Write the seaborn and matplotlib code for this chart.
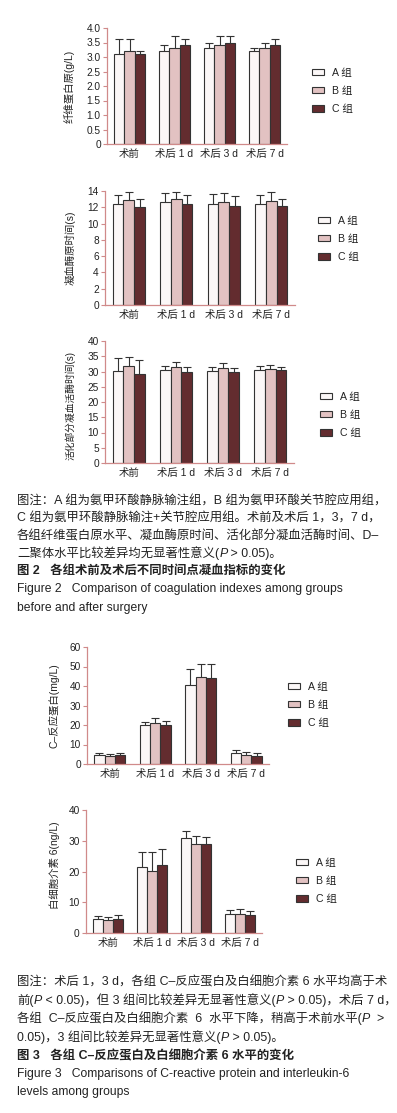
import numpy as np
import pandas as pd
import matplotlib
matplotlib.use('Agg')
import matplotlib.pyplot as plt
from matplotlib.text import Annotation
import seaborn as sns

# categories / groups
times = ['术前', '术后 1 d', '术后 3 d', '术后 7 d']
groups = ['A 组', 'B 组', 'C 组']

# fibrinogen (g/L), mean and upper sd
fib_a = [3.12, 3.21, 3.31, 3.21]
fib_b = [3.21, 3.31, 3.42, 3.31]
fib_c = [3.12, 3.42, 3.50, 3.42]
fib_a_sd = [0.51, 0.21, 0.18, 0.10]
fib_b_sd = [0.42, 0.40, 0.29, 0.18]
fib_c_sd = [0.09, 0.21, 0.21, 0.21]

# prothrombin time (s)
pt_a = [12.37, 12.65, 12.45, 12.40]
pt_b = [12.90, 13.00, 12.65, 12.78]
pt_c = [12.04, 12.45, 12.20, 12.10]
pt_a_sd = [1.18, 1.15, 1.15, 1.15]
pt_b_sd = [1.00, 0.90, 1.15, 1.12]
pt_c_sd = [0.96, 1.05, 1.20, 0.90]

# APTT (s)
aptt_a = [30.3, 30.6, 30.3, 30.6]
aptt_b = [31.8, 31.4, 31.1, 30.9]
aptt_c = [29.3, 29.8, 29.8, 30.4]
aptt_a_sd = [4.1, 1.3, 1.3, 1.3]
aptt_b_sd = [2.95, 1.7, 1.7, 1.3]
aptt_c_sd = [4.6, 1.7, 1.3, 1.1]

# CRP (mg/L)
crp_a = [4.6, 19.9, 40.7, 5.8]
crp_b = [4.3, 20.8, 44.8, 4.8]
crp_c = [4.6, 20.1, 44.0, 4.1]
crp_a_sd = [0.85, 1.7, 8.0, 1.5]
crp_b_sd = [0.85, 2.9, 6.6, 1.5]
crp_c_sd = [0.85, 2.2, 7.4, 1.7]

# IL-6 (ng/L)
il6_a = [4.7, 21.5, 30.8, 6.3]
il6_b = [4.35, 20.2, 29.1, 6.3]
il6_c = [4.7, 22.1, 29.1, 6.0]
il6_a_sd = [0.8, 4.7, 2.5, 1.3]
il6_b_sd = [0.85, 6.0, 2.5, 1.5]
il6_c_sd = [1.1, 5.1, 2.2, 1.0]

bar_colors = ['#fcf6f6', '#e7bdbd', '#6c2327']
spine_color = '#d08a8a'
text_color = '#222222'

sns.set_style("white")
plt.rcParams['font.family'] = ['Liberation Sans', 'Noto Sans CJK SC']

W, H = 397, 1113
fig = plt.figure(figsize=(W / 100, H / 100), dpi=100)
fig.patch.set_facecolor('white')


def px_rect(left, top, right, bottom):
    return [left / W, 1 - bottom / H, (right - left) / W, (bottom - top) / H]


def draw_panel(rect, means, sds, yticks, ytick_labels, ylabel, label_x, label_y,
               leg_xy, label_size=7.5):
    ax = fig.add_axes(px_rect(*rect))
    df = pd.DataFrame({
        'time': np.tile(times, 3),
        'group': np.repeat(groups, 4),
        'value': np.concatenate(means),
    })
    sns.barplot(data=df, x='time', y='value', hue='group', order=times,
                hue_order=groups, palette=bar_colors, errorbar=None,
                width=0.68, edgecolor='#333333', linewidth=0.8, ax=ax)

    # one-sided error bars on top of each bar
    for cont, sd in zip(ax.containers, sds):
        xs = [b.get_x() + b.get_width() / 2 for b in cont]
        ys = [b.get_height() for b in cont]
        eb = ax.errorbar(xs, ys, yerr=[np.zeros(len(sd)), sd], fmt='none',
                         ecolor='#333333', elinewidth=0.8, capsize=2.6,
                         capthick=0.8)
        eb[1][0].set_visible(False)

    ax.set_xlim(-0.5, 3.5)
    ax.set_ylim(yticks[0], yticks[-1])
    ax.set_yticks(yticks)
    ax.set_yticklabels(ytick_labels)
    ax.set_xticks(range(len(times)))
    ax.set_xticklabels(times)
    ax.set_xticks([0.5, 1.5, 2.5, 3.5], minor=True)
    ax.tick_params(axis='x', which='major', length=0, pad=3.5,
                   labelsize=7.5, labelcolor=text_color)
    ax.tick_params(axis='x', which='minor', length=3, width=0.8,
                   color=spine_color, direction='out')
    ax.tick_params(axis='y', length=3, width=0.8, color=spine_color,
                   direction='out', pad=1.5, labelsize=7.3,
                   labelcolor=text_color, left=True)
    for side in ['top', 'right']:
        ax.spines[side].set_visible(False)
    for side in ['left', 'bottom']:
        ax.spines[side].set_color(spine_color)
        ax.spines[side].set_linewidth(0.9)
    ax.set_xlabel('')
    ax.set_ylabel(ylabel, fontsize=label_size, color=text_color)
    ax.yaxis.set_label_coords(label_x, label_y)

    sns.move_legend(ax, loc='center left', title=None, frameon=False,
                    bbox_to_anchor=(leg_xy[0] / W, 1 - leg_xy[1] / H),
                    bbox_transform=fig.transFigure, fontsize=7.6,
                    handlelength=1.1, handleheight=0.55, handletextpad=0.8,
                    labelspacing=0.78, borderpad=0, borderaxespad=0)
    for t in ax.get_legend().get_texts():
        t.set_color(text_color)
    return ax


draw_panel((107, 28, 287, 144), [fib_a, fib_b, fib_c],
           [fib_a_sd, fib_b_sd, fib_c_sd],
           np.arange(0, 4.01, 0.5),
           ['0', '0.5', '1.0', '1.5', '2.0', '2.5', '3.0', '3.5', '4.0'],
           '纤维蛋白原(g/L)', -0.178, 0.5, (312, 91))

draw_panel((105, 191, 295, 305), [pt_a, pt_b, pt_c],
           [pt_a_sd, pt_b_sd, pt_c_sd],
           np.arange(0, 15, 2), [str(v) for v in range(0, 15, 2)],
           '凝血酶原时间(s)', -0.155, 0.5, (318, 239))

draw_panel((105, 341, 294, 463), [aptt_a, aptt_b, aptt_c],
           [aptt_a_sd, aptt_b_sd, aptt_c_sd],
           np.arange(0, 41, 5), [str(v) for v in range(0, 41, 5)],
           '活化部分凝血活酶时间(s)', -0.155, 0.47, (320, 415), label_size=7.0)

draw_panel((87, 647, 269, 764), [crp_a, crp_b, crp_c],
           [crp_a_sd, crp_b_sd, crp_c_sd],
           np.arange(0, 61, 10), [str(v) for v in range(0, 61, 10)],
           'C–反应蛋白(mg/L)', -0.15, 0.5, (288, 705))

draw_panel((86, 810, 262, 933), [il6_a, il6_b, il6_c],
           [il6_a_sd, il6_b_sd, il6_c_sd],
           np.arange(0, 41, 10), [str(v) for v in range(0, 41, 10)],
           '白细胞介素 6(ng/L)', -0.15, 0.55, (296, 881))

# captions: each line is a list of segments; italic ones are tuples
cap_x = 17 / W


def cap(y, parts, size=8.9, bold=False):
    weight = 'bold' if bold else 'normal'
    prev = None
    for part in parts:
        italic = isinstance(part, tuple)
        s = part[0] if italic else part
        style = 'italic' if italic else 'normal'
        if prev is None:
            prev = fig.text(cap_x, 1 - y / H, s, ha='left', va='center',
                            fontsize=size, color=text_color,
                            fontweight=weight, fontstyle=style)
        else:
            ann = Annotation(s, xy=(1, 0), xycoords=prev, ha='left',
                             va='bottom', fontsize=size, color=text_color,
                             fontweight=weight, fontstyle=style)
            fig.add_artist(ann)
            prev = ann


cap(501, ['图注：A 组为氨甲环酸静脉输注组，B 组为氨甲环酸关节腔应用组，'])
cap(518, ['C 组为氨甲环酸静脉输注+关节腔应用组。术前及术后 1，3，7 d，'])
cap(536, ['各组纤维蛋白原水平、凝血酶原时间、活化部分凝血活酶时间、D–'])
cap(553, ['二聚体水平比较差异均无显著性意义(', ('P',), ' > 0.05)。'])
cap(571, ['图 2   各组术前及术后不同时间点凝血指标的变化'], bold=True)
cap(589, ['Figure 2   Comparison of coagulation indexes among groups'], size=8.7)
cap(608, ['before and after surgery'], size=8.7)

cap(982, ['图注：术后 1，3 d，各组 C–反应蛋白及白细胞介素 6 水平均高于术'])
cap(1000, ['前(', ('P',), ' < 0.05)，但 3 组间比较差异无显著性意义(', ('P',),
           ' > 0.05)，术后 7 d，'])
cap(1018, ['各组  C–反应蛋白及白细胞介素  6  水平下降，稍高于术前水平(', ('P',), '  >'])
cap(1037, ['0.05)，3 组间比较差异无显著性意义(', ('P',), ' > 0.05)。'])
cap(1056, ['图 3   各组 C–反应蛋白及白细胞介素 6 水平的变化'], bold=True)
cap(1074, ['Figure 3   Comparisons of C-reactive protein and interleukin-6'], size=8.7)
cap(1092, ['levels among groups'], size=8.7)

fig.savefig('out.png', dpi=100, facecolor='white')
plt.close(fig)
